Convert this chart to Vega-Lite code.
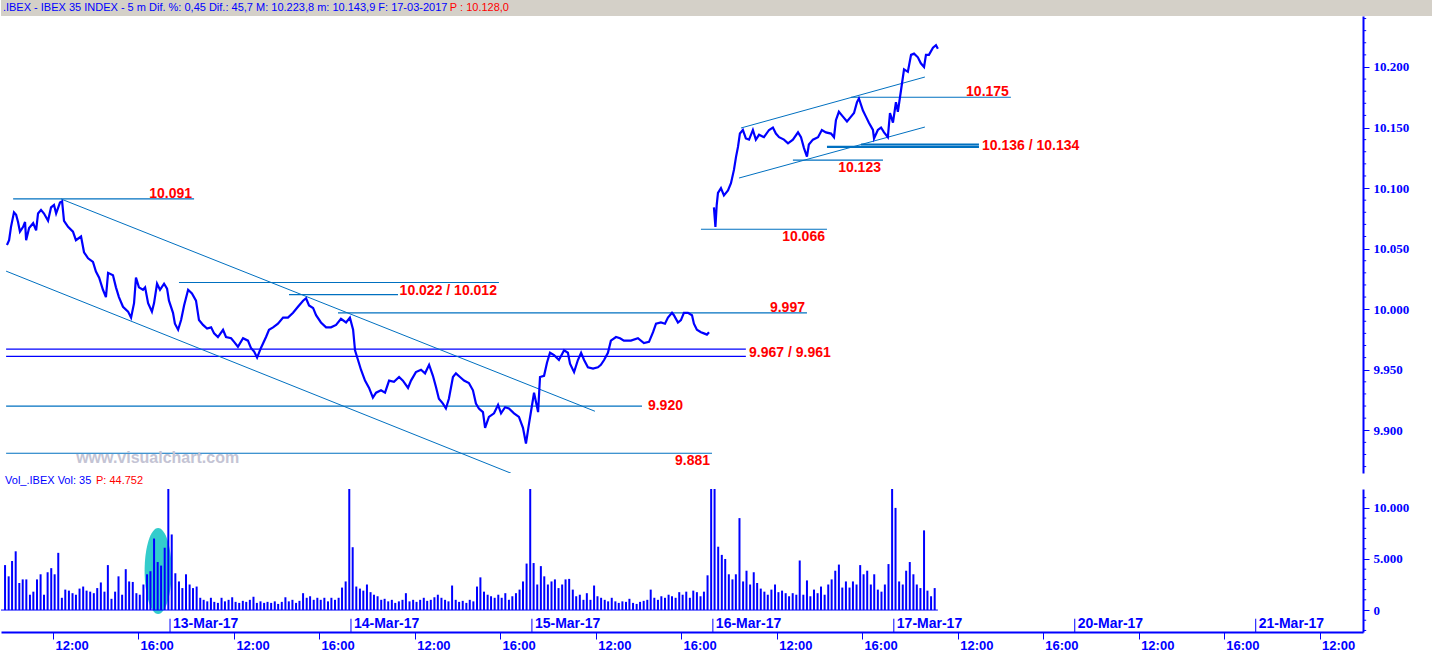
{
"$schema":"https://vega.github.io/schema/vega-lite/v6.json",
"padding":0,
"background":"white",
"spacing":0,
"config":{"view":{"stroke":null}},
"datasets":{
"price":[
{"d":"10","t":-7.66,"p":10053},{"d":"10","t":-7.56,"p":10057},{"d":"10","t":-7.47,"p":10068},{"d":"10","t":-7.33,"p":10080},{"d":"10","t":-7.23,"p":10078},{"d":"10","t":-7.14,"p":10072},{"d":"10","t":-7.05,"p":10064},{"d":"10","t":-6.9,"p":10068},{"d":"10","t":-6.81,"p":10072},{"d":"10","t":-6.76,"p":10057},{"d":"10","t":-6.62,"p":10067},{"d":"10","t":-6.43,"p":10071},{"d":"10","t":-6.29,"p":10065},{"d":"10","t":-6.2,"p":10079},{"d":"10","t":-6.06,"p":10082},{"d":"10","t":-5.92,"p":10079},{"d":"10","t":-5.73,"p":10073},{"d":"10","t":-5.59,"p":10084},{"d":"10","t":-5.45,"p":10086},{"d":"10","t":-5.35,"p":10079},{"d":"10","t":-5.17,"p":10088},{"d":"10","t":-5.07,"p":10089},{"d":"10","t":-4.98,"p":10073},{"d":"10","t":-4.79,"p":10068},{"d":"10","t":-4.56,"p":10064},{"d":"10","t":-4.42,"p":10057},{"d":"10","t":-4.18,"p":10060},{"d":"10","t":-4.04,"p":10047},{"d":"10","t":-3.85,"p":10042},{"d":"10","t":-3.62,"p":10039},{"d":"10","t":-3.48,"p":10031},{"d":"10","t":-3.33,"p":10026},{"d":"10","t":-3.15,"p":10016},{"d":"10","t":-3.01,"p":10010},{"d":"10","t":-2.91,"p":10030},{"d":"10","t":-2.68,"p":10028},{"d":"10","t":-2.54,"p":10018},{"d":"10","t":-2.4,"p":10010},{"d":"10","t":-2.21,"p":10002},{"d":"10","t":-1.97,"p":9998},{"d":"10","t":-1.83,"p":9993},{"d":"10","t":-1.69,"p":10005},{"d":"10","t":-1.6,"p":10026},{"d":"10","t":-1.46,"p":10018},{"d":"10","t":-1.27,"p":10016},{"d":"10","t":-1.17,"p":10018},{"d":"10","t":-1.03,"p":10005},{"d":"10","t":-0.85,"p":9998},{"d":"10","t":-0.75,"p":10005},{"d":"10","t":-0.61,"p":10021},{"d":"10","t":-0.47,"p":10016},{"d":"10","t":-0.28,"p":10021},{"d":"10","t":-0.14,"p":10017},{"d":"10","t":-0.05,"p":10007},
{"d":"10","t":0.14,"p":9997},{"d":"10","t":0.23,"p":9988},{"d":"10","t":0.38,"p":9983},{"d":"10","t":0.52,"p":9991},{"d":"10","t":0.66,"p":10003},{"d":"10","t":0.85,"p":10016},{"d":"10","t":1.03,"p":10013},{"d":"10","t":1.22,"p":10007},{"d":"10","t":1.36,"p":9991},{"d":"10","t":1.55,"p":9987},{"d":"10","t":1.74,"p":9984},{"d":"10","t":1.93,"p":9985},{"d":"10","t":2.07,"p":9980},{"d":"10","t":2.25,"p":9977},{"d":"10","t":2.49,"p":9983},{"d":"10","t":2.63,"p":9977},{"d":"10","t":2.87,"p":9976},{"d":"10","t":3.01,"p":9973},{"d":"10","t":3.19,"p":9969},{"d":"10","t":3.43,"p":9976},{"d":"10","t":3.66,"p":9974},{"d":"10","t":3.8,"p":9968},{"d":"10","t":3.95,"p":9965},{"d":"10","t":4.09,"p":9960},{"d":"10","t":4.27,"p":9968},{"d":"10","t":4.51,"p":9977},{"d":"10","t":4.65,"p":9983},{"d":"10","t":4.84,"p":9985},{"d":"10","t":5.07,"p":9988},{"d":"10","t":5.31,"p":9993},{"d":"10","t":5.54,"p":9993},{"d":"10","t":5.78,"p":9997},{"d":"10","t":6.01,"p":10002},{"d":"10","t":6.25,"p":10007},{"d":"10","t":6.39,"p":10009},{"d":"10","t":6.53,"p":10003},{"d":"10","t":6.72,"p":10001},{"d":"10","t":6.86,"p":9995},{"d":"10","t":7.09,"p":9989},{"d":"10","t":7.33,"p":9985},{"d":"10","t":7.56,"p":9985},{"d":"10","t":7.8,"p":9987},{"d":"10","t":8.03,"p":9992},{"d":"10","t":8.27,"p":9989},{"d":"10","t":8.45,"p":9993},
{"d":"10","t":8.6,"p":9983},{"d":"10","t":8.69,"p":9966},{"d":"10","t":8.83,"p":9958},{"d":"10","t":8.97,"p":9950},{"d":"10","t":9.16,"p":9941},{"d":"10","t":9.35,"p":9935},{"d":"10","t":9.53,"p":9927},{"d":"10","t":9.68,"p":9931},{"d":"10","t":9.91,"p":9933},{"d":"10","t":10.1,"p":9931},{"d":"10","t":10.29,"p":9941},{"d":"10","t":10.52,"p":9940},{"d":"10","t":10.76,"p":9944},{"d":"10","t":10.94,"p":9941},{"d":"10","t":11.18,"p":9935},{"d":"10","t":11.32,"p":9941},{"d":"10","t":11.55,"p":9948},{"d":"10","t":11.79,"p":9950},{"d":"10","t":11.98,"p":9947},{"d":"10","t":12.17,"p":9954},{"d":"10","t":12.35,"p":9945},{"d":"10","t":12.49,"p":9936},{"d":"10","t":12.63,"p":9926},{"d":"10","t":12.82,"p":9922},{"d":"10","t":12.96,"p":9918},{"d":"10","t":13.1,"p":9926},{"d":"10","t":13.29,"p":9944},{"d":"10","t":13.43,"p":9947},{"d":"10","t":13.62,"p":9944},{"d":"10","t":13.81,"p":9941},{"d":"10","t":14.04,"p":9939},{"d":"10","t":14.23,"p":9933},{"d":"10","t":14.37,"p":9922},{"d":"10","t":14.51,"p":9918},{"d":"10","t":14.7,"p":9915},{"d":"10","t":14.8,"p":9902},{"d":"10","t":14.98,"p":9911},{"d":"10","t":15.22,"p":9914},{"d":"10","t":15.41,"p":9921},{"d":"10","t":15.55,"p":9914},{"d":"10","t":15.74,"p":9919},{"d":"10","t":15.92,"p":9918},{"d":"10","t":16.16,"p":9914},{"d":"10","t":16.39,"p":9911},{"d":"10","t":16.58,"p":9902},{"d":"10","t":16.72,"p":9889},{"d":"10","t":16.86,"p":9905},
{"d":"10","t":17.1,"p":9931},{"d":"10","t":17.29,"p":9915},{"d":"10","t":17.38,"p":9944},{"d":"10","t":17.57,"p":9945},{"d":"10","t":17.71,"p":9956},{"d":"10","t":17.85,"p":9964},{"d":"10","t":18.04,"p":9962},{"d":"10","t":18.27,"p":9958},{"d":"10","t":18.51,"p":9966},{"d":"10","t":18.69,"p":9964},{"d":"10","t":18.79,"p":9955},{"d":"10","t":18.98,"p":9948},{"d":"10","t":19.16,"p":9958},{"d":"10","t":19.31,"p":9964},{"d":"10","t":19.45,"p":9958},{"d":"10","t":19.63,"p":9952},{"d":"10","t":19.87,"p":9951},{"d":"10","t":20.1,"p":9952},{"d":"10","t":20.24,"p":9954},{"d":"10","t":20.39,"p":9958},{"d":"10","t":20.57,"p":9964},{"d":"10","t":20.71,"p":9974},{"d":"10","t":20.95,"p":9977},{"d":"10","t":21.14,"p":9976},{"d":"10","t":21.32,"p":9974},{"d":"10","t":21.65,"p":9974},{"d":"10","t":21.98,"p":9976},{"d":"10","t":22.26,"p":9972},{"d":"10","t":22.5,"p":9973},{"d":"10","t":22.69,"p":9981},{"d":"10","t":22.83,"p":9988},{"d":"10","t":23.06,"p":9989},{"d":"10","t":23.25,"p":9988},{"d":"10","t":23.39,"p":9993},{"d":"10","t":23.58,"p":9997},{"d":"10","t":23.67,"p":9995},{"d":"10","t":23.86,"p":9989},{"d":"10","t":24.0,"p":9991},{"d":"10","t":24.14,"p":9997},{"d":"10","t":24.33,"p":9997},{"d":"10","t":24.52,"p":9995},{"d":"10","t":24.61,"p":9988},{"d":"10","t":24.75,"p":9983},{"d":"10","t":24.94,"p":9981},{"d":"10","t":25.08,"p":9980},{"d":"10","t":25.22,"p":9979},{"d":"10","t":25.32,"p":9981},
{"d":"16","t":25.55,"p":10084},{"d":"16","t":25.62,"p":10068},{"d":"16","t":25.68,"p":10086},{"d":"16","t":25.74,"p":10096},{"d":"16","t":25.88,"p":10100},{"d":"16","t":26.02,"p":10094},{"d":"16","t":26.21,"p":10098},{"d":"16","t":26.35,"p":10104},{"d":"16","t":26.49,"p":10115},{"d":"16","t":26.59,"p":10126},{"d":"16","t":26.68,"p":10134},{"d":"16","t":26.77,"p":10145},{"d":"16","t":26.91,"p":10148},{"d":"16","t":27.05,"p":10141},{"d":"16","t":27.2,"p":10140},{"d":"16","t":27.38,"p":10148},{"d":"16","t":27.52,"p":10140},{"d":"16","t":27.67,"p":10144},{"d":"16","t":27.9,"p":10142},{"d":"16","t":28.14,"p":10148},{"d":"16","t":28.32,"p":10150},{"d":"16","t":28.46,"p":10145},{"d":"16","t":28.61,"p":10142},{"d":"16","t":28.84,"p":10140},{"d":"16","t":29.03,"p":10137},{"d":"16","t":29.26,"p":10140},{"d":"16","t":29.5,"p":10146},{"d":"16","t":29.64,"p":10142},{"d":"16","t":29.78,"p":10133},{"d":"16","t":29.92,"p":10126},{"d":"16","t":30.01,"p":10136},{"d":"16","t":30.2,"p":10140},{"d":"16","t":30.44,"p":10142},{"d":"16","t":30.62,"p":10148},{"d":"16","t":30.81,"p":10146},{"d":"16","t":31.05,"p":10145},{"d":"16","t":31.19,"p":10142},{"d":"16","t":31.28,"p":10156},{"d":"16","t":31.42,"p":10163},{"d":"16","t":31.61,"p":10159},{"d":"16","t":31.8,"p":10155},{"d":"16","t":31.99,"p":10159},{"d":"16","t":32.13,"p":10162},{"d":"16","t":32.27,"p":10171},{"d":"16","t":32.36,"p":10174},{"d":"16","t":32.55,"p":10164},{"d":"16","t":32.69,"p":10159},{"d":"16","t":32.83,"p":10154},{"d":"16","t":33.02,"p":10148},{"d":"16","t":33.07,"p":10141},{"d":"16","t":33.25,"p":10148},{"d":"16","t":33.4,"p":10150},{"d":"16","t":33.54,"p":10146},{"d":"16","t":33.72,"p":10142},{"d":"16","t":33.82,"p":10162},{"d":"16","t":33.96,"p":10154},
{"d":"16","t":34.1,"p":10171},{"d":"16","t":34.19,"p":10163},{"d":"16","t":34.34,"p":10181},{"d":"16","t":34.48,"p":10198},{"d":"16","t":34.66,"p":10196},{"d":"16","t":34.81,"p":10210},{"d":"16","t":34.95,"p":10211},{"d":"16","t":35.13,"p":10208},{"d":"16","t":35.27,"p":10203},{"d":"16","t":35.42,"p":10200},{"d":"16","t":35.51,"p":10210},{"d":"16","t":35.65,"p":10210},{"d":"16","t":35.84,"p":10216},{"d":"16","t":35.98,"p":10218},{"d":"16","t":36.07,"p":10215}
],
"vol":[
{"t":-7.75,"v":4400},{"t":-7.58,"v":3300},{"t":-7.42,"v":4800},{"t":-7.25,"v":5750},{"t":-7.08,"v":2650},{"t":-6.92,"v":3000},{"t":-6.75,"v":3000},{"t":-6.58,"v":1500},{"t":-6.42,"v":1800},{"t":-6.25,"v":3000},{"t":-6.08,"v":3500},{"t":-5.92,"v":1500},{"t":-5.75,"v":3700},{"t":-5.58,"v":4100},{"t":-5.42,"v":3500},{"t":-5.25,"v":5600},{"t":-5.08,"v":1200},{"t":-4.92,"v":2000},{"t":-4.75,"v":1900},{"t":-4.58,"v":1650},{"t":-4.42,"v":1500},{"t":-4.25,"v":2100},{"t":-4.08,"v":2300},{"t":-3.92,"v":1900},{"t":-3.75,"v":1800},{"t":-3.58,"v":1650},{"t":-3.42,"v":2150},{"t":-3.25,"v":2700},{"t":-3.08,"v":1800},{"t":-2.92,"v":4400},{"t":-2.75,"v":1100},{"t":-2.58,"v":1800},{"t":-2.42,"v":3300},{"t":-2.25,"v":1500},{"t":-2.08,"v":4000},{"t":-1.92,"v":2800},{"t":-1.75,"v":2750},{"t":-1.58,"v":1650},{"t":-1.42,"v":1500},{"t":-1.25,"v":2500},{"t":-1.08,"v":3500},{"t":-0.92,"v":3800},{"t":-0.75,"v":7000},{"t":-0.58,"v":4700},{"t":-0.42,"v":4350},{"t":-0.25,"v":6100},{"t":-0.08,"v":15000},
{"t":0.08,"v":7400},{"t":0.25,"v":3600},{"t":0.42,"v":2800},{"t":0.58,"v":2150},{"t":0.75,"v":3500},{"t":0.92,"v":2500},{"t":1.08,"v":2150},{"t":1.25,"v":2300},{"t":1.42,"v":1200},{"t":1.58,"v":1000},{"t":1.75,"v":850},{"t":1.92,"v":1200},{"t":2.08,"v":800},{"t":2.25,"v":700},{"t":2.42,"v":1200},{"t":2.58,"v":850},{"t":2.75,"v":1000},{"t":2.92,"v":1250},{"t":3.08,"v":800},{"t":3.25,"v":700},{"t":3.42,"v":900},{"t":3.58,"v":800},{"t":3.75,"v":1000},{"t":3.92,"v":1300},{"t":4.08,"v":700},{"t":4.25,"v":850},{"t":4.42,"v":700},{"t":4.58,"v":800},{"t":4.75,"v":700},{"t":4.92,"v":850},{"t":5.08,"v":600},{"t":5.25,"v":800},{"t":5.42,"v":1250},{"t":5.58,"v":850},{"t":5.75,"v":1000},{"t":5.92,"v":700},{"t":6.08,"v":900},{"t":6.25,"v":1650},{"t":6.42,"v":1200},{"t":6.58,"v":1350},{"t":6.75,"v":1000},{"t":6.92,"v":1200},{"t":7.08,"v":1000},{"t":7.25,"v":1200},{"t":7.42,"v":850},{"t":7.58,"v":1200},{"t":7.75,"v":1000},{"t":7.92,"v":1200},{"t":8.08,"v":2200},{"t":8.25,"v":2800},{"t":8.42,"v":15000},
{"t":8.58,"v":6150},{"t":8.75,"v":2300},{"t":8.92,"v":2100},{"t":9.08,"v":1900},{"t":9.25,"v":2500},{"t":9.42,"v":1750},{"t":9.58,"v":1500},{"t":9.75,"v":1350},{"t":9.92,"v":1000},{"t":10.08,"v":1100},{"t":10.25,"v":850},{"t":10.42,"v":1000},{"t":10.58,"v":700},{"t":10.75,"v":850},{"t":10.92,"v":1000},{"t":11.08,"v":1650},{"t":11.25,"v":850},{"t":11.42,"v":1000},{"t":11.58,"v":800},{"t":11.75,"v":1000},{"t":11.92,"v":1200},{"t":12.08,"v":900},{"t":12.25,"v":1000},{"t":12.42,"v":1250},{"t":12.58,"v":1500},{"t":12.75,"v":1200},{"t":12.92,"v":1000},{"t":13.08,"v":850},{"t":13.25,"v":2400},{"t":13.42,"v":1000},{"t":13.58,"v":800},{"t":13.75,"v":900},{"t":13.92,"v":700},{"t":14.08,"v":1000},{"t":14.25,"v":850},{"t":14.42,"v":2300},{"t":14.58,"v":3200},{"t":14.75,"v":1800},{"t":14.92,"v":1500},{"t":15.08,"v":1350},{"t":15.25,"v":1200},{"t":15.42,"v":1500},{"t":15.58,"v":1200},{"t":15.75,"v":1650},{"t":15.92,"v":1000},{"t":16.08,"v":1350},{"t":16.25,"v":1650},{"t":16.42,"v":2000},{"t":16.58,"v":2800},{"t":16.75,"v":4550},{"t":16.92,"v":15000},
{"t":17.08,"v":4600},{"t":17.25,"v":2500},{"t":17.42,"v":4300},{"t":17.58,"v":3300},{"t":17.75,"v":2500},{"t":17.92,"v":2800},{"t":18.08,"v":3000},{"t":18.25,"v":2150},{"t":18.42,"v":2500},{"t":18.58,"v":3000},{"t":18.75,"v":3050},{"t":18.92,"v":2000},{"t":19.08,"v":1350},{"t":19.25,"v":1500},{"t":19.42,"v":1000},{"t":19.58,"v":1650},{"t":19.75,"v":1000},{"t":19.92,"v":2400},{"t":20.08,"v":1350},{"t":20.25,"v":1200},{"t":20.42,"v":1000},{"t":20.58,"v":850},{"t":20.75,"v":1200},{"t":20.92,"v":850},{"t":21.08,"v":700},{"t":21.25,"v":850},{"t":21.42,"v":800},{"t":21.58,"v":1100},{"t":21.75,"v":700},{"t":21.92,"v":600},{"t":22.08,"v":800},{"t":22.25,"v":900},{"t":22.42,"v":1000},{"t":22.58,"v":2000},{"t":22.75,"v":1200},{"t":22.92,"v":1000},{"t":23.08,"v":1350},{"t":23.25,"v":1200},{"t":23.42,"v":1500},{"t":23.58,"v":1350},{"t":23.75,"v":1200},{"t":23.92,"v":1750},{"t":24.08,"v":1500},{"t":24.25,"v":1800},{"t":24.42,"v":1200},{"t":24.58,"v":1900},{"t":24.75,"v":1750},{"t":24.92,"v":1350},{"t":25.08,"v":1800},{"t":25.25,"v":3400},{"t":25.42,"v":15000},
{"t":25.58,"v":15000},{"t":25.75,"v":6200},{"t":25.92,"v":5400},{"t":26.08,"v":5000},{"t":26.25,"v":3500},{"t":26.42,"v":3000},{"t":26.58,"v":3500},{"t":26.75,"v":9000},{"t":26.92,"v":2800},{"t":27.08,"v":3850},{"t":27.25,"v":2500},{"t":27.42,"v":3700},{"t":27.58,"v":2650},{"t":27.75,"v":2100},{"t":27.92,"v":1800},{"t":28.08,"v":1500},{"t":28.25,"v":2000},{"t":28.42,"v":2500},{"t":28.58,"v":1750},{"t":28.75,"v":1900},{"t":28.92,"v":1650},{"t":29.08,"v":1350},{"t":29.25,"v":1650},{"t":29.42,"v":1500},{"t":29.58,"v":4850},{"t":29.75,"v":1500},{"t":29.92,"v":2900},{"t":30.08,"v":1350},{"t":30.25,"v":2000},{"t":30.42,"v":1650},{"t":30.58,"v":2300},{"t":30.75,"v":1500},{"t":30.92,"v":2500},{"t":31.08,"v":3000},{"t":31.25,"v":3850},{"t":31.42,"v":4450},{"t":31.58,"v":2200},{"t":31.75,"v":2800},{"t":31.92,"v":2200},{"t":32.08,"v":2800},{"t":32.25,"v":2500},{"t":32.42,"v":4400},{"t":32.58,"v":3500},{"t":32.75,"v":3850},{"t":32.92,"v":2500},{"t":33.08,"v":3500},{"t":33.25,"v":2000},{"t":33.42,"v":1800},{"t":33.58,"v":2500},{"t":33.75,"v":4500},{"t":33.92,"v":15000},
{"t":34.08,"v":10000},{"t":34.25,"v":2800},{"t":34.42,"v":2500},{"t":34.58,"v":3850},{"t":34.75,"v":4700},{"t":34.92,"v":3500},{"t":35.08,"v":2500},{"t":35.25,"v":2150},{"t":35.42,"v":7800},{"t":35.58,"v":1900},{"t":35.75,"v":1350},{"t":35.92,"v":2150}
],
"levels":[
{"level":10091,"from":-7.37,"to":1.13},{"level":10022,"from":0.42,"to":15.45},{"level":10012,"from":5.59,"to":10.71},{"level":9997,"from":7.89,"to":29.92},{"level":9920,"from":-7.7,"to":22.17},{"level":9881,"from":-7.7,"to":25.46},{"level":10066,"from":24.94,"to":30.86},{"level":10123,"from":29.26,"to":33.49},{"level":10175,"from":31.99,"to":39.5}
],
"levelsPair":[{"level":10134,"from":30.86,"to":38.0},{"level":10136,"from":32.46,"to":38.0}],
"levelsDark":[{"level":9967,"from":-7.7,"to":27.05},{"level":9961,"from":-7.7,"to":27.05}],
"trend":[
{"id":"d1","t":-5.12,"p":10091},{"id":"d1","t":19.96,"p":9915.7},
{"id":"d2","t":-7.7,"p":10031.4},{"id":"d2","t":16.02,"p":9864.5},
{"id":"u1","t":26.82,"p":10149.6},{"id":"u1","t":35.46,"p":10191.7},
{"id":"u2","t":26.73,"p":10108.3},{"id":"u2","t":35.46,"p":10150.4}
],
"lblAbove":[{"text":"10.091","t":1.13,"level":10091},{"text":"9.997","t":29.92,"level":9997},{"text":"10.175","t":39.5,"level":10175}],
"lblBelow":[{"text":"10.022 / 10.012","t":15.45,"level":10022},{"text":"9.881","t":25.46,"level":9881},{"text":"10.066","t":30.86,"level":10066},{"text":"10.123","t":33.49,"level":10123}],
"lblRight":[{"text":"9.967 / 9.961","t":27.2,"level":9964},{"text":"9.920","t":22.45,"level":9920},{"text":"10.136 / 10.134","t":38.14,"level":10135}],
"dates":[{"t":0,"label":"13-Mar-17"},{"t":8.5,"label":"14-Mar-17"},{"t":17,"label":"15-Mar-17"},{"t":25.5,"label":"16-Mar-17"},{"t":34,"label":"17-Mar-17"},{"t":42.5,"label":"20-Mar-17"},{"t":51,"label":"21-Mar-17"}],
"minorP":[{"m":9870},{"m":9880},{"m":9890},{"m":9910},{"m":9920},{"m":9930},{"m":9940},{"m":9960},{"m":9970},{"m":9980},{"m":9990},{"m":10010},{"m":10020},{"m":10030},{"m":10040},{"m":10060},{"m":10070},{"m":10080},{"m":10090},{"m":10110},{"m":10120},{"m":10130},{"m":10140},{"m":10160},{"m":10170},{"m":10180},{"m":10190},{"m":10210},{"m":10220},{"m":10230},{"m":10240}],
"minorV":[{"m":-2000},{"m":-1000},{"m":1000},{"m":2000},{"m":3000},{"m":4000},{"m":6000},{"m":7000},{"m":8000},{"m":9000},{"m":11000}]
},
"vconcat":[
{
 "width":1432,"height":16,
 "view":{"fill":"#d4d0c8","stroke":null},
 "layer":[
  {"data":{"values":[{"t":-7.85,"txt":".IBEX - IBEX 35 INDEX - 5 m Dif. %: 0,45 Dif.: 45,7 M: 10.223,8 m: 10.143,9 F: 17-03-2017"}]},
   "mark":{"type":"text","align":"left","baseline":"middle","font":"Liberation Sans","fontSize":11,"color":"#0000ff"},
   "encoding":{"x":{"field":"t","type":"quantitative","scale":{"domain":[-7.94,59.32],"nice":false,"zero":false},"axis":null},"text":{"field":"txt"}}},
  {"data":{"values":[{"t":15.92,"txt":"P : 10.128,0"}]},
   "mark":{"type":"text","align":"right","baseline":"middle","font":"Liberation Sans","fontSize":11,"color":"#ff0000"},
   "encoding":{"x":{"field":"t","type":"quantitative","scale":{"domain":[-7.94,59.32],"nice":false,"zero":false},"axis":null},"text":{"field":"txt"}}}
 ]
},
{
 "width":1362,"height":457,
 "layer":[
  {"data":{"name":"levels"},
   "mark":{"type":"rule","color":"#0070c0","strokeWidth":1.2},
   "encoding":{
    "x":{"field":"from","type":"quantitative","scale":{"domain":[-7.94,56.04],"nice":false,"zero":false},"axis":null},
    "x2":{"field":"to"},
    "y":{"field":"level","type":"quantitative","scale":{"domain":[9864.7,10242.1],"nice":false,"zero":false},
     "axis":{"orient":"right","title":null,"grid":false,
      "values":[9900,9950,10000,10050,10100,10150,10200],
      "domainColor":"#0000ff","domainWidth":2,"tickColor":"#0000ff","tickWidth":1,"tickSize":6,
      "labelExpr":"replace(format(datum.value, ','), ',', '.')",
      "labelFont":"Liberation Serif","labelFontWeight":"bold","labelFontSize":13,"labelColor":"#0000ff",
      "labelPadding":4,"labelOverlap":false,"labelBound":false,"labelFlush":false}}}},
  {"data":{"name":"minorP"},
   "mark":{"type":"rule","color":"#0000ff","strokeWidth":1},
   "encoding":{
    "x":{"datum":56.04,"type":"quantitative","scale":{"domain":[-7.94,56.04],"nice":false,"zero":false}},
    "x2":{"datum":56.19},
    "y":{"field":"m","type":"quantitative","scale":{"domain":[9864.7,10242.1],"nice":false,"zero":false}}}},
  {"data":{"name":"levelsPair"},
   "mark":{"type":"rule","color":"#0070c0","strokeWidth":2.2},
   "encoding":{
    "x":{"field":"from","type":"quantitative","scale":{"domain":[-7.94,56.04],"nice":false,"zero":false}},
    "x2":{"field":"to"},
    "y":{"field":"level","type":"quantitative","scale":{"domain":[9864.7,10242.1],"nice":false,"zero":false}}}},
  {"data":{"name":"levelsDark"},
   "mark":{"type":"rule","color":"#0000ff","strokeWidth":1.2},
   "encoding":{
    "x":{"field":"from","type":"quantitative","scale":{"domain":[-7.94,56.04],"nice":false,"zero":false}},
    "x2":{"field":"to"},
    "y":{"field":"level","type":"quantitative","scale":{"domain":[9864.7,10242.1],"nice":false,"zero":false}}}},
  {"data":{"name":"trend"},
   "mark":{"type":"line","color":"#0070c0","strokeWidth":1,"clip":true},
   "encoding":{
    "x":{"field":"t","type":"quantitative","scale":{"domain":[-7.94,56.04],"nice":false,"zero":false}},
    "y":{"field":"p","type":"quantitative","scale":{"domain":[9864.7,10242.1],"nice":false,"zero":false}},
    "detail":{"field":"id"}}},
  {"data":{"name":"price"},
   "mark":{"type":"line","color":"#0000ff","strokeWidth":2.2,"strokeJoin":"miter"},
   "encoding":{
    "x":{"field":"t","type":"quantitative","scale":{"domain":[-7.94,56.04],"nice":false,"zero":false}},
    "y":{"field":"p","type":"quantitative","scale":{"domain":[9864.7,10242.1],"nice":false,"zero":false}},
    "detail":{"field":"d"}}},
  {"data":{"name":"lblAbove"},
   "mark":{"type":"text","align":"right","baseline":"alphabetic","dx":-2,"dy":-1,"font":"Liberation Sans","fontWeight":"bold","fontSize":14,"color":"#ff0000"},
   "encoding":{
    "x":{"field":"t","type":"quantitative","scale":{"domain":[-7.94,56.04],"nice":false,"zero":false}},
    "y":{"field":"level","type":"quantitative","scale":{"domain":[9864.7,10242.1],"nice":false,"zero":false}},
    "text":{"field":"text"}}},
  {"data":{"name":"lblBelow"},
   "mark":{"type":"text","align":"right","baseline":"top","dx":-2,"dy":1,"font":"Liberation Sans","fontWeight":"bold","fontSize":14,"color":"#ff0000"},
   "encoding":{
    "x":{"field":"t","type":"quantitative","scale":{"domain":[-7.94,56.04],"nice":false,"zero":false}},
    "y":{"field":"level","type":"quantitative","scale":{"domain":[9864.7,10242.1],"nice":false,"zero":false}},
    "text":{"field":"text"}}},
  {"data":{"name":"lblRight"},
   "mark":{"type":"text","align":"left","baseline":"middle","font":"Liberation Sans","fontWeight":"bold","fontSize":14,"color":"#ff0000"},
   "encoding":{
    "x":{"field":"t","type":"quantitative","scale":{"domain":[-7.94,56.04],"nice":false,"zero":false}},
    "y":{"field":"level","type":"quantitative","scale":{"domain":[9864.7,10242.1],"nice":false,"zero":false}},
    "text":{"field":"text"}}},
  {"data":{"values":[{"t":-4.41,"p":9877,"txt":"www.visualchart.com"}]},
   "mark":{"type":"text","align":"left","baseline":"middle","font":"Liberation Sans","fontWeight":"bold","fontSize":16,"color":"#c4c4d4"},
   "encoding":{
    "x":{"field":"t","type":"quantitative","scale":{"domain":[-7.94,56.04],"nice":false,"zero":false}},
    "y":{"field":"p","type":"quantitative","scale":{"domain":[9864.7,10242.1],"nice":false,"zero":false}},
    "text":{"field":"txt"}}}
 ]
},
{
 "width":1432,"height":16,
 "layer":[
  {"data":{"values":[{"t":-7.75,"txt":"Vol_.IBEX Vol: 35"}]},
   "mark":{"type":"text","align":"left","baseline":"middle","font":"Liberation Sans","fontSize":11,"color":"#0000ff"},
   "encoding":{"x":{"field":"t","type":"quantitative","scale":{"domain":[-7.94,59.32],"nice":false,"zero":false},"axis":null},"text":{"field":"txt"}}},
  {"data":{"values":[{"t":-3.48,"txt":"P: 44.752"}]},
   "mark":{"type":"text","align":"left","baseline":"middle","font":"Liberation Sans","fontSize":11,"color":"#ff0000"},
   "encoding":{"x":{"field":"t","type":"quantitative","scale":{"domain":[-7.94,59.32],"nice":false,"zero":false},"axis":null},"text":{"field":"txt"}}}
 ]
},
{
 "width":1362,"height":143,
 "layer":[
  {"data":{"values":[{"t":-0.56,"v":3820}]},
   "mark":{"type":"point","shape":"M-0.314,0A0.314,1,0,1,0,0.314,0A0.314,1,0,1,0,-0.314,0Z","size":7396,"filled":true,"color":"#33cccc","opacity":1,"strokeWidth":0},
   "encoding":{
    "x":{"field":"t","type":"quantitative","scale":{"domain":[-7.94,56.04],"nice":false,"zero":false},
     "axis":{"orient":"bottom","title":null,"grid":false,
      "values":[-5.5,-1.5,3,7,11.5,15.5,20,24,28.5,32.5,37,41,45.5,49.5,54],
      "labelExpr":"((datum.value % 8.5) + 8.5) % 8.5 < 5 ? '12:00' : '16:00'",
      "labelAlign":"left","labelBaseline":"top","labelOffset":2,"labelPadding":0,
      "tickSize":7,"tickColor":"#0000ff","tickWidth":1,"domainColor":"#0000ff","domainWidth":2,
      "labelFont":"Liberation Sans","labelFontWeight":"bold","labelFontSize":13,"labelColor":"#0000ff",
      "labelOverlap":false,"labelBound":false,"labelFlush":false}},
    "y":{"field":"v","type":"quantitative","scale":{"domain":[-2150,11850],"nice":false,"zero":false},
     "axis":{"orient":"right","title":null,"grid":false,
      "values":[0,5000,10000],
      "domainColor":"#0000ff","domainWidth":2,"tickColor":"#0000ff","tickWidth":1,"tickSize":6,
      "labelExpr":"replace(format(datum.value, ','), ',', '.')",
      "labelFont":"Liberation Serif","labelFontWeight":"bold","labelFontSize":13,"labelColor":"#0000ff",
      "labelPadding":4,"labelOverlap":false,"labelBound":false,"labelFlush":false}}}},
  {"data":{"name":"minorV"},
   "mark":{"type":"rule","color":"#0000ff","strokeWidth":1},
   "encoding":{
    "x":{"datum":56.04,"type":"quantitative","scale":{"domain":[-7.94,56.04],"nice":false,"zero":false}},
    "x2":{"datum":56.19},
    "y":{"field":"m","type":"quantitative","scale":{"domain":[-2150,11850],"nice":false,"zero":false}}}},
  {"data":{"name":"vol"},
   "mark":{"type":"rule","color":"#0000ff","strokeWidth":2,"clip":true},
   "encoding":{
    "x":{"field":"t","type":"quantitative","scale":{"domain":[-7.94,56.04],"nice":false,"zero":false}},
    "y":{"field":"v","type":"quantitative","scale":{"domain":[-2150,11850],"nice":false,"zero":false}},
    "y2":{"datum":0}}},
  {"data":{"values":[{"a":-7.94,"b":36.07}]},
   "mark":{"type":"rule","color":"#0000ff","strokeWidth":1},
   "encoding":{
    "x":{"field":"a","type":"quantitative","scale":{"domain":[-7.94,56.04],"nice":false,"zero":false}},
    "x2":{"field":"b"},
    "y":{"datum":0,"type":"quantitative","scale":{"domain":[-2150,11850],"nice":false,"zero":false}}}},
  {"data":{"name":"dates"},
   "mark":{"type":"rule","color":"#0000ff","strokeWidth":1},
   "encoding":{
    "x":{"field":"t","type":"quantitative","scale":{"domain":[-7.94,56.04],"nice":false,"zero":false}},
    "y":{"datum":-2150,"type":"quantitative","scale":{"domain":[-2150,11850],"nice":false,"zero":false}},
    "y2":{"datum":-850}}},
  {"data":{"name":"dates"},
   "mark":{"type":"text","align":"left","baseline":"middle","dx":3,"font":"Liberation Sans","fontWeight":"bold","fontSize":14,"color":"#0000ff"},
   "encoding":{
    "x":{"field":"t","type":"quantitative","scale":{"domain":[-7.94,56.04],"nice":false,"zero":false}},
    "y":{"datum":-1400,"type":"quantitative","scale":{"domain":[-2150,11850],"nice":false,"zero":false}},
    "text":{"field":"label"}}}
 ]
}
]
}
